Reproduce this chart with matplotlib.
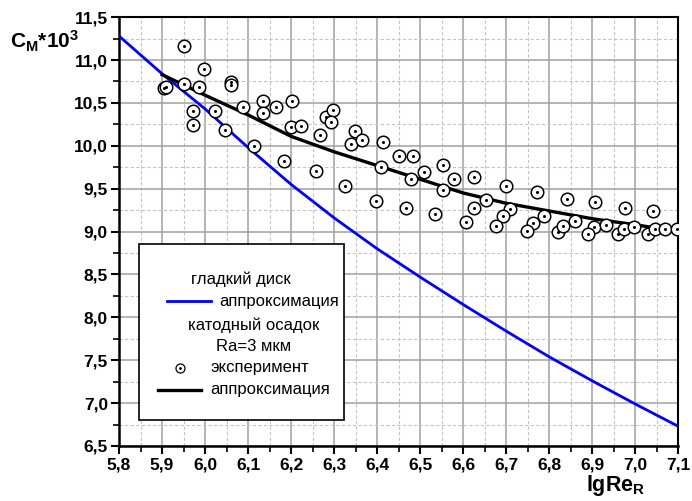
import numpy as np
import matplotlib
matplotlib.use('Agg')
import matplotlib.pyplot as plt
from matplotlib.ticker import MultipleLocator, FuncFormatter
from matplotlib.patches import Rectangle
from matplotlib.lines import Line2D

plt.rcParams['font.family'] = ['Liberation Sans', 'DejaVu Sans']
plt.rcParams['mathtext.fontset'] = 'custom'
plt.rcParams['mathtext.rm'] = 'Liberation Sans:bold'
plt.rcParams['mathtext.bf'] = 'Liberation Sans:bold'
plt.rcParams['mathtext.it'] = 'Liberation Sans:bold'

# smooth disc, approximation
smooth_x = [5.8, 5.9, 6.0, 6.1, 6.2, 6.3, 6.4, 6.5, 6.6, 6.7, 6.8, 6.9, 7.0, 7.1]
smooth_y = [11.28, 10.84, 10.43, 9.98, 9.55, 9.16, 8.80, 8.47, 8.15, 7.84, 7.54, 7.26, 6.99, 6.73]

# cathode deposit, approximation
rough_x = [5.9, 6.0, 6.1, 6.2, 6.3, 6.4, 6.5, 6.6, 6.7, 6.8, 6.9, 7.0, 7.05]
rough_y = [10.83, 10.59, 10.36, 10.11, 9.93, 9.77, 9.61, 9.45, 9.33, 9.24, 9.15, 9.08, 9.04]

# cathode deposit, experiment
exp_x = [5.905, 5.91, 5.95, 5.998, 5.952, 5.986, 6.06, 6.06, 5.973, 5.971, 6.024, 6.046,
         6.088, 6.135, 6.135, 6.165, 6.203, 6.114, 6.183, 6.2, 6.223, 6.257, 6.267, 6.282,
         6.298, 6.294, 6.326, 6.348, 6.34, 6.365, 6.413, 6.408, 6.398, 6.45, 6.484, 6.479,
         6.467, 6.51, 6.535, 6.554, 6.578, 6.625, 6.553, 6.607, 6.625, 6.654, 6.70, 6.708,
         6.692, 6.677, 6.772, 6.787, 6.763, 6.748, 6.82, 6.841, 6.833, 6.859, 6.906, 6.905,
         6.891, 6.933, 6.977, 6.961, 6.973, 6.998, 7.041, 7.03, 7.045, 7.07, 7.097]
exp_y = [10.67, 10.68, 11.16, 10.90, 10.72, 10.68, 10.74, 10.71, 10.40, 10.24, 10.40, 10.18,
         10.45, 10.52, 10.38, 10.45, 10.52, 10.00, 9.82, 10.22, 10.23, 9.71, 10.12, 10.33,
         10.42, 10.28, 9.53, 10.17, 10.02, 10.07, 10.04, 9.75, 9.36, 9.88, 9.88, 9.61,
         9.28, 9.70, 9.20, 9.78, 9.61, 9.64, 9.49, 9.11, 9.28, 9.37, 9.53, 9.26,
         9.18, 9.06, 9.46, 9.18, 9.10, 9.01, 9.00, 9.38, 9.06, 9.12, 9.34, 9.05,
         8.97, 9.08, 9.28, 8.97, 9.03, 9.05, 9.24, 8.97, 9.03, 9.03, 9.03]

fig = plt.figure(figsize=(6.92, 5.01), dpi=100)
ax = fig.add_axes([0.172, 0.1098, 0.808, 0.856])

ax.set_xlim(5.8, 7.1)
ax.set_ylim(6.5, 11.5)
ax.xaxis.set_major_locator(MultipleLocator(0.1))
ax.xaxis.set_minor_locator(MultipleLocator(0.05))
ax.yaxis.set_major_locator(MultipleLocator(0.5))
ax.yaxis.set_minor_locator(MultipleLocator(0.25))
fmt = FuncFormatter(lambda v, p: f'{v:.1f}'.replace('.', ','))
ax.xaxis.set_major_formatter(fmt)
ax.yaxis.set_major_formatter(fmt)

ax.grid(which='major', color='#a0a0a0', lw=1.1, ls='-')
ax.grid(which='minor', color='#c4c4c4', lw=0.8, ls=(0, (3, 2)))
ax.set_axisbelow(True)

ax.tick_params(which='major', direction='out', length=6, width=1.5, pad=2,
               labelsize=12.5, top=False, right=False)
ax.tick_params(which='minor', direction='out', length=4, width=1.2, top=False, right=False)
for lab in ax.get_xticklabels() + ax.get_yticklabels():
    lab.set_fontweight('bold')
for s in ['left', 'bottom']:
    ax.spines[s].set_linewidth(1.8)
for s in ['top', 'right']:
    ax.spines[s].set_linewidth(1.5)

ax.plot(smooth_x, smooth_y, color='#0000ff', lw=2.0, zorder=3)
ax.plot(rough_x, rough_y, color='black', lw=2.4, zorder=3)
ax.plot(exp_x, exp_y, ls='none', marker='o', ms=9, mfc='white', mec='black', mew=1.1, zorder=4)
ax.plot(exp_x, exp_y, ls='none', marker='o', ms=1.2, mfc='black', mec='black', zorder=5)

# legend box
tr = ax.transAxes
ax.add_patch(Rectangle((0.036, 0.061), 0.3665, 0.41, transform=tr, fc='white',
                       ec='black', lw=1.2, zorder=6))
fs = 12
ax.text(0.218, 0.389, 'гладкий диск', transform=tr, ha='center', va='center', fontsize=fs, zorder=7)
ax.add_line(Line2D([0.086, 0.165], [0.338, 0.338], transform=tr, color='#0000ff', lw=2.0, zorder=7))
ax.text(0.179, 0.338, 'аппроксимация', transform=tr, ha='left', va='center', fontsize=fs, zorder=7)
ax.text(0.240, 0.282, 'катодный осадок', transform=tr, ha='center', va='center', fontsize=fs, zorder=7)
ax.text(0.240, 0.231, 'Ra=3 мкм', transform=tr, ha='center', va='center', fontsize=fs, zorder=7)
ax.add_line(Line2D([0.109], [0.182], transform=tr, ls='none', marker='o', ms=6.5,
                   mfc='white', mec='black', mew=0.9, zorder=7))
ax.add_line(Line2D([0.109], [0.182], transform=tr, ls='none', marker='o', ms=1,
                   mfc='black', mec='black', zorder=8))
ax.text(0.163, 0.182, 'эксперимент', transform=tr, ha='left', va='center', fontsize=fs, zorder=7)
ax.add_line(Line2D([0.070, 0.147], [0.131, 0.131], transform=tr, color='black', lw=2.4, zorder=7))
ax.text(0.163, 0.131, 'аппроксимация', transform=tr, ha='left', va='center', fontsize=fs, zorder=7)

fig.text(0.015, 0.918, r'$\mathbf{C_{M}{*}10^{3}}$', fontsize=15, ha='left', va='center')
fig.text(0.89, 0.03, r'$\mathbf{lgRe_{R}}$', fontsize=15.5, ha='center', va='center')

fig.savefig('out.png', dpi=100)
